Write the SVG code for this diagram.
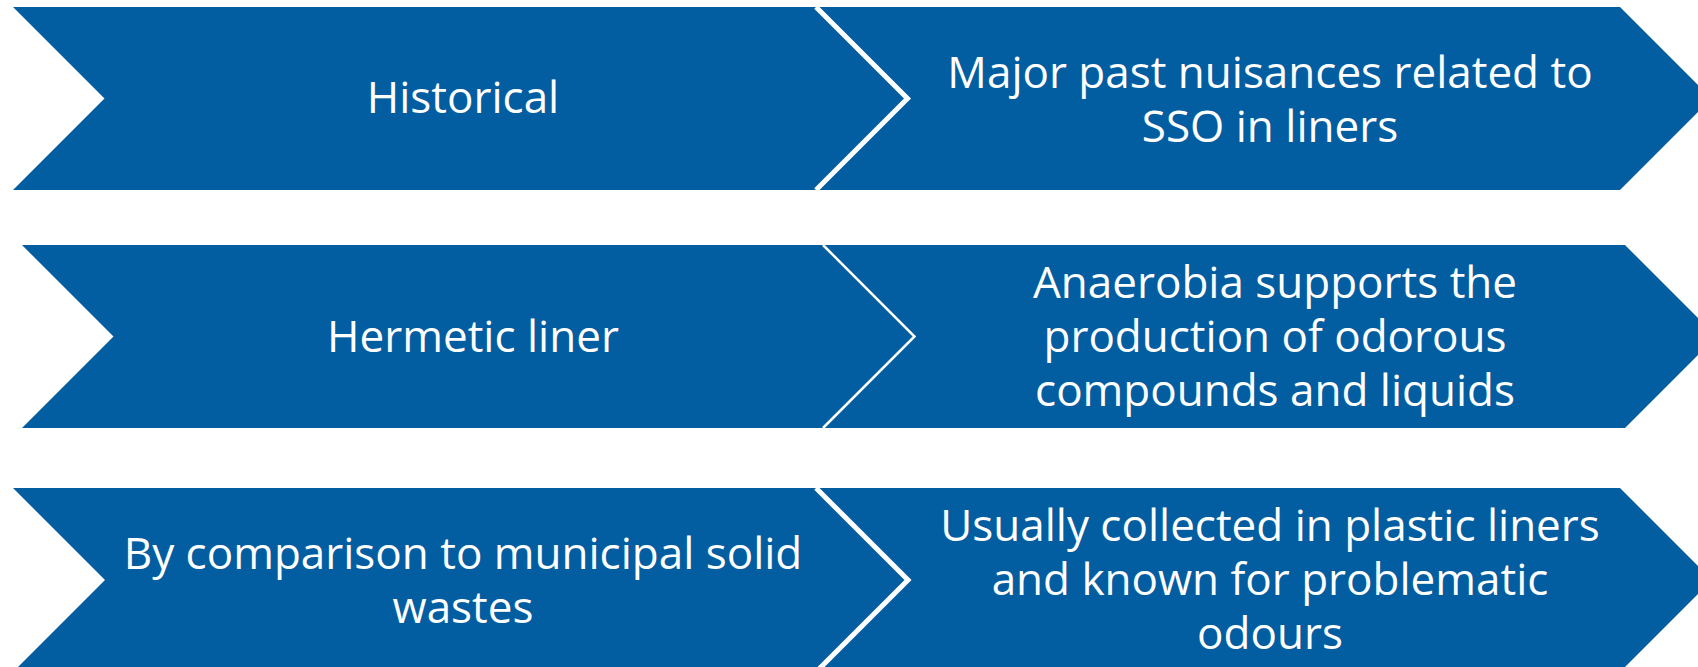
<svg xmlns="http://www.w3.org/2000/svg" width="1698" height="667" viewBox="0 0 1698 667">
  <style>
    .chev { fill: #035DA1; }
    .sep { fill: none; stroke: #FFFFFF; stroke-linejoin: miter; }
    .lbl { font-family: "Open Sans", "Noto Sans", "Liberation Sans", sans-serif; font-size: 44px; fill: #FFFFFF; text-anchor: middle; }
  </style>
  <rect width="1698" height="667" fill="#FFFFFF"/>

  <!-- Row 1 -->
  <g id="historical">
    <polygon class="chev" points="13,7 820,7 911.5,98.5 820,190 13,190 104.5,98.5"/>
    <text class="lbl" x="463" y="113">Historical</text>
  </g>
  <g id="past-nuisances">
    <polygon class="chev" points="816,7 1620,7 1711.5,98.5 1620,190 816,190 907.5,98.5"/>
    <text class="lbl" x="1270" y="88">Major past nuisances related to</text>
    <text class="lbl" x="1270" y="142">SSO in liners</text>
  </g>

  <!-- Row 2 -->
  <g id="hermetic-liner">
    <polygon class="chev" points="22,245 825,245 916.5,336.5 825,428 22,428 113.5,336.5"/>
    <text class="lbl" x="473" y="352">Hermetic liner</text>
  </g>
  <g id="anaerobia">
    <polygon class="chev" points="823,245 1625,245 1716.5,336.5 1625,428 823,428 914.5,336.5"/>
    <text class="lbl" x="1275" y="298">Anaerobia supports the</text>
    <text class="lbl" x="1275" y="352">production of odorous</text>
    <text class="lbl" x="1275" y="406">compounds and liquids</text>
  </g>

  <!-- Row 3 -->
  <g id="msw-comparison">
    <polygon class="chev" points="13,488 820,488 912,580 820,672 13,672 105,580"/>
    <text class="lbl" x="463" y="569">By comparison to municipal solid</text>
    <text class="lbl" x="463" y="623">wastes</text>
  </g>
  <g id="plastic-liners">
    <polygon class="chev" points="816,488 1620,488 1712,580 1620,672 816,672 908,580"/>
    <text class="lbl" x="1270" y="541">Usually collected in plastic liners</text>
    <text class="lbl" x="1270" y="595">and known for problematic</text>
    <text class="lbl" x="1270" y="649">odours</text>
  </g>

  <!-- white separators between paired chevrons -->
  <g id="connectors">
    <polyline class="sep" stroke-width="5" points="816,7 907.5,98.5 816,190"/>
    <polyline class="sep" stroke-width="2.5" points="823,245 914.5,336.5 823,428"/>
    <polyline class="sep" stroke-width="5" points="816,488 908,580 816,672"/>
  </g>
</svg>
